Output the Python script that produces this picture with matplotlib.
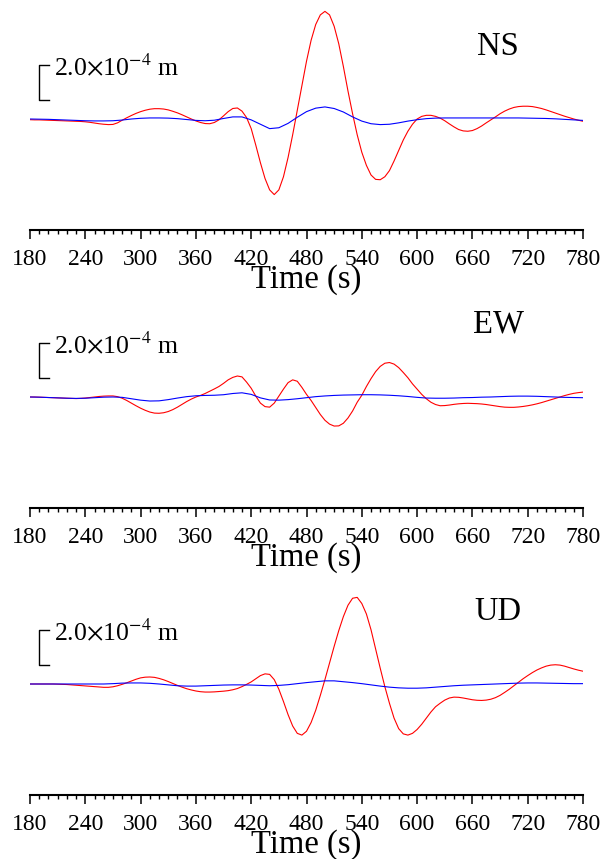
import numpy as np
import matplotlib
matplotlib.use('Agg')
import matplotlib.pyplot as plt
from matplotlib.ticker import MultipleLocator

plt.rcParams['font.family'] = ['Liberation Serif', 'DejaVu Serif']
plt.rcParams['mathtext.fontset'] = 'stix'

# displacement in units of 1e-4 m
t_obs = np.arange(180, 781, 5)
t_syn = np.arange(180, 781, 10)

ns_obs = [
    -0.04, -0.05, -0.05, -0.06, -0.07, -0.08, -0.09, -0.10, -0.11, -0.12, -0.13, -0.14,
    -0.16, -0.19, -0.23, -0.27, -0.30, -0.32, -0.31, -0.22, -0.07, 0.07, 0.20, 0.32,
    0.42, 0.50, 0.56, 0.59, 0.59, 0.57, 0.52, 0.44, 0.35, 0.24, 0.12, 0.00,
    -0.11, -0.20, -0.26, -0.27, -0.20, -0.05, 0.18, 0.42, 0.60, 0.63, 0.45, 0.08,
    -0.55, -1.50, -2.50, -3.40, -4.05, -4.32, -4.05, -3.30, -2.20, -0.90, 0.50, 1.90,
    3.30, 4.50, 5.40, 5.95, 6.15, 5.95, 5.30, 4.30, 3.00, 1.60, 0.30, -0.90,
    -1.90, -2.65, -3.20, -3.45, -3.47, -3.30, -2.95, -2.40, -1.80, -1.20, -0.70, -0.30,
    0.00, 0.15, 0.21, 0.21, 0.15, 0.05, -0.10, -0.28, -0.45, -0.60, -0.68, -0.70,
    -0.66, -0.55, -0.40, -0.22, -0.05, 0.12, 0.30, 0.45, 0.57, 0.66, 0.71, 0.73,
    0.73, 0.71, 0.66, 0.60, 0.52, 0.43, 0.34, 0.25, 0.16, 0.08, 0.00, -0.07,
    -0.13,
]
ns_syn = [
    0.00, -0.01, -0.02, -0.04, -0.06, -0.08,
    -0.10, -0.11, -0.11, -0.10, -0.06, 0.00,
    0.04, 0.06, 0.06, 0.05, 0.02, -0.03,
    -0.08, -0.10, -0.07, 0.03, 0.12, 0.12,
    -0.05, -0.30, -0.55, -0.50, -0.25, 0.10,
    0.42, 0.62, 0.69, 0.60, 0.40, 0.12,
    -0.12, -0.27, -0.32, -0.30, -0.22, -0.12,
    -0.04, 0.02, 0.05, 0.06, 0.06, 0.06,
    0.06, 0.06, 0.06, 0.06, 0.06, 0.06,
    0.05, 0.04, 0.03, 0.01, -0.02, -0.05,
    -0.08,
]

ew_obs = [
    0.00, 0.00, -0.01, -0.02, -0.03, -0.04, -0.05, -0.06, -0.07, -0.08, -0.09, -0.08,
    -0.06, -0.03, 0.00, 0.03, 0.05, 0.06, 0.06, 0.02, -0.07, -0.20, -0.35, -0.50,
    -0.64, -0.76, -0.86, -0.92, -0.93, -0.90, -0.83, -0.72, -0.58, -0.42, -0.26, -0.12,
    0.00, 0.09, 0.20, 0.33, 0.46, 0.60, 0.78, 0.98, 1.12, 1.20, 1.15, 0.85,
    0.50, 0.05, -0.35, -0.55, -0.58, -0.35, 0.05, 0.45, 0.82, 0.98, 0.90, 0.55,
    0.15, -0.20, -0.60, -1.00, -1.33, -1.55, -1.66, -1.65, -1.50, -1.20, -0.80, -0.30,
    0.10, 0.60, 1.05, 1.45, 1.75, 1.93, 1.97, 1.88, 1.68, 1.40, 1.10, 0.75,
    0.45, 0.15, -0.10, -0.30, -0.43, -0.50, -0.49, -0.46, -0.42, -0.39, -0.37, -0.36,
    -0.37, -0.38, -0.40, -0.43, -0.47, -0.51, -0.55, -0.58, -0.59, -0.59, -0.57, -0.54,
    -0.50, -0.45, -0.39, -0.32, -0.24, -0.16, -0.08, 0.00, 0.08, 0.15, 0.21, 0.25,
    0.28,
]
ew_syn = [
    0.00, -0.01, -0.03, -0.05, -0.07, -0.08,
    -0.07, -0.04, -0.01, 0.00, -0.02, -0.10,
    -0.18, -0.23, -0.22, -0.15, -0.06, 0.02,
    0.07, 0.09, 0.10, 0.13, 0.20, 0.24,
    0.15, -0.05, -0.17, -0.18, -0.15, -0.10,
    -0.04, 0.02, 0.06, 0.09, 0.11, 0.12,
    0.13, 0.13, 0.12, 0.10, 0.07, 0.03,
    -0.02, -0.06, -0.07, -0.07, -0.06, -0.04,
    -0.03, -0.01, 0.00, 0.02, 0.04, 0.05,
    0.05, 0.04, 0.02, 0.00, -0.02, -0.03,
    -0.04,
]

ud_obs = [
    0.00, 0.00, 0.00, 0.00, 0.00, 0.00, -0.01, -0.02, -0.03, -0.05, -0.07, -0.09,
    -0.11, -0.13, -0.15, -0.17, -0.19, -0.19, -0.16, -0.10, -0.02, 0.07, 0.17, 0.27,
    0.35, 0.39, 0.40, 0.38, 0.32, 0.24, 0.14, 0.03, -0.08, -0.18, -0.27, -0.34,
    -0.40, -0.44, -0.46, -0.46, -0.45, -0.43, -0.41, -0.38, -0.33, -0.26, -0.15, -0.02,
    0.12, 0.30, 0.48, 0.58, 0.55, 0.25, -0.30, -1.00, -1.75, -2.40, -2.82, -2.92,
    -2.70, -2.20, -1.50, -0.65, 0.25, 1.20, 2.15, 3.05, 3.85, 4.50, 4.90, 4.95,
    4.60, 4.00, 3.10, 2.00, 0.90, -0.15, -1.10, -1.95, -2.55, -2.85, -2.92, -2.82,
    -2.60, -2.30, -1.95, -1.60, -1.30, -1.10, -0.92, -0.80, -0.75, -0.76, -0.80, -0.85,
    -0.90, -0.93, -0.94, -0.92, -0.87, -0.78, -0.65, -0.48, -0.30, -0.10, 0.10, 0.30,
    0.48, 0.65, 0.80, 0.92, 1.02, 1.08, 1.10, 1.08, 1.02, 0.94, 0.86, 0.79,
    0.73,
]
ud_syn = [
    0.00, 0.00, 0.00, 0.00, 0.00, 0.00,
    0.00, 0.00, 0.00, 0.02, 0.05, 0.06,
    0.06, 0.04, 0.00, -0.05, -0.10, -0.12,
    -0.12, -0.10, -0.08, -0.06, -0.05, -0.05,
    -0.06, -0.08, -0.10, -0.08, -0.04, 0.02,
    0.08, 0.13, 0.18, 0.18, 0.13, 0.08,
    0.02, -0.05, -0.12, -0.18, -0.22, -0.24,
    -0.24, -0.22, -0.18, -0.14, -0.10, -0.07,
    -0.05, -0.03, -0.01, 0.01, 0.03, 0.05,
    0.06, 0.06, 0.05, 0.04, 0.03, 0.02,
    0.02,
]

components = ['NS', 'EW', 'UD']
obs_traces = [ns_obs, ew_obs, ud_obs]
syn_traces = [ns_syn, ew_syn, ud_syn]
scale_label = r'2.0$\times$10$^{-4}$ m'
scale_len = 2.0

W, H = 610, 859
fig = plt.figure(figsize=(W / 100, H / 100), dpi=100)

axis_rows = [230, 508, 795]   # pixel row of each time axis
ax_h = 225                     # axes height in pixels
px_per_unit = 17.5
ylo = -111 / px_per_unit
yhi = ylo + ax_h / px_per_unit

for comp, obs, syn, row in zip(components, obs_traces, syn_traces, axis_rows):
    ax = fig.add_axes([30 / W, 1 - row / H, 553 / W, ax_h / H])
    ax.patch.set_visible(False)
    ax.plot(t_obs, obs, color='red', lw=0.8)
    ax.plot(t_syn, syn, color='blue', lw=0.8)
    ax.set_xlim(180, 780)
    ax.set_ylim(ylo, yhi)

    for s in ['left', 'right', 'top']:
        ax.spines[s].set_visible(False)
    ax.spines['bottom'].set_linewidth(1.5)
    ax.yaxis.set_visible(False)

    ax.xaxis.set_major_locator(MultipleLocator(60))
    ax.xaxis.set_minor_locator(MultipleLocator(10))
    ax.tick_params(axis='x', which='major', length=6.5, width=1.1, labelsize=17, pad=7)
    ax.tick_params(axis='x', which='minor', length=3.2, width=1.0)
    ax.set_xlabel('Time (s)', fontsize=23.5, labelpad=-4)

    # amplitude scale bracket
    b0 = 1.1
    ax.plot([201, 190, 190, 201], [b0, b0, b0 + scale_len, b0 + scale_len],
            color='black', lw=1.0, clip_on=False)
    ax.text(206, 2.5, scale_label, fontsize=18.5, va='baseline')
    ax.text(688, 4.15, comp, fontsize=23.5, ha='center', va='center')

fig.savefig('out.png', dpi=100)
